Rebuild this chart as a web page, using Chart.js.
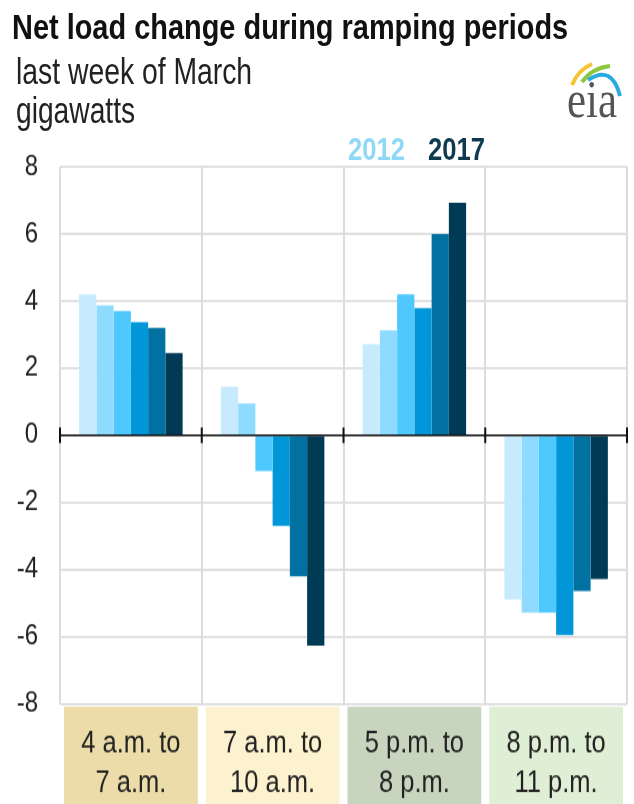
<!DOCTYPE html>
<html>
<head>
<meta charset="utf-8">
<script src="https://cdn.jsdelivr.net/npm/chart.js@4.4.0/dist/chart.umd.min.js"></script>
<style>
  body { margin: 0; background: #fff; }
  #wrap { position: relative; width: 634px; height: 804px; overflow: hidden; }
  /* the original picture is stretched vertically, so the canvas is too */
  #chart { position: absolute; left: 0; top: 0; transform: scaleY(1.2); transform-origin: 0 0; }
  .txt { position: absolute; font-family: "Liberation Sans", Arial, sans-serif; white-space: nowrap; line-height: 1; transform-origin: 0 0; }
  #title { left: 12px; top: 10px; font-size: 34.5px; font-weight: bold; color: #111; }
  #sub1 { left: 16px; top: 54px; font-size: 36px; color: #222; }
  #sub2 { left: 16px; top: 93px; font-size: 36px; color: #222; }
  .leg { top: 134px; font-size: 31px; font-weight: bold; }
  #l2012 { left: 348px; color: #8fd8f8; }
  #l2017 { left: 428px; color: #0e3a50; }
  #logo { position: absolute; left: 550px; top: 50px; }
</style>
</head>
<body>
<div id="wrap">
  <canvas id="chart" width="634" height="670"></canvas>
  <div class="txt" id="title">Net load change during ramping periods</div>
  <div class="txt" id="sub1">last week of March</div>
  <div class="txt" id="sub2">gigawatts</div>
  <div class="txt leg" id="l2012">2012</div>
  <div class="txt leg" id="l2017">2017</div>
  <svg id="logo" width="80" height="75" viewBox="0 0 80 75">
    <path d="M22 35 Q28 20 42 14" stroke="#f5c431" stroke-width="4" fill="none"/>
    <path d="M32 32 Q42 18 60 16" stroke="#8dc63f" stroke-width="4" fill="none"/>
    <path d="M38 30 Q62 14 70 46" stroke="#29abe2" stroke-width="4" fill="none"/>
    <text x="17" y="67" font-family="Liberation Serif, DejaVu Serif, serif" font-size="52" textLength="50" lengthAdjust="spacingAndGlyphs" fill="#555">eia</text>
  </svg>
</div>
<script>
'use strict';

let canvasElem = document.getElementById('chart');

// data
let periods = [['4 a.m. to', '7 a.m.'], ['7 a.m. to', '10 a.m.'], ['5 p.m. to', '8 p.m.'], ['8 p.m. to', '11 p.m.']];
let years = ['2012', '2013', '2014', '2015', '2016', '2017'];
let v2012 = [4.2, 1.45, 2.72, -4.89];
let v2013 = [3.87, 0.95, 3.13, -5.28];
let v2014 = [3.7, -1.06, 4.2, -5.28];
let v2015 = [3.37, -2.7, 3.79, -5.95];
let v2016 = [3.2, -4.2, 6.0, -4.64];
let v2017 = [2.45, -6.27, 6.93, -4.28];
let yTicks = [-8, -6, -4, -2, 0, 2, 4, 6, 8];

// styles
let barColors = ['#c7ebfc', '#8fdbff', '#4fc8fd', '#0096d7', '#0071a1', '#003a54'];
let boxColors = ['#ebdcaa', '#fdf2cf', '#c7d5be', '#dfefd6'];
let fontFam = '"Liberation Sans", Arial, sans-serif';

// squeeze the html texts to the widths in the picture
function fitText(id, width) {
  let el = document.getElementById(id);
  el.style.transform = 'scaleX(' + (width / el.offsetWidth) + ')';
}
fitText('title', 556);
fitText('sub1', 236);
fitText('sub2', 119);
fitText('l2012', 57);
fitText('l2017', 57);

let allValues = [v2012, v2013, v2014, v2015, v2016, v2017];
let datasets = [];
for (let i = 0; i < years.length; i++) {
  datasets.push({
    label: years[i],
    data: allValues[i],
    backgroundColor: barColors[i],
    borderWidth: 0,
    barPercentage: 1.0,
    categoryPercentage: 0.73
  });
}

let boxPlugin = {
  id: 'boxes',
  // colored boxes under the categories
  beforeDraw(chart) {
    let ctx = chart.ctx;
    let xs = chart.scales.x;
    let area = chart.chartArea;
    let w = (xs.right - xs.left) / periods.length;
    ctx.save();
    for (let i = 0; i < periods.length; i++) {
      let c = xs.getPixelForValue(i);
      ctx.fillStyle = boxColors[i];
      ctx.fillRect(c - w / 2 + 4, area.bottom + 2.5, w - 8, chart.height - area.bottom - 2.5);
    }
    ctx.restore();
  },
  // zero line with tick marks at the group borders
  afterDatasetsDraw(chart) {
    let ctx = chart.ctx;
    let xs = chart.scales.x;
    let y0 = chart.scales.y.getPixelForValue(0);
    let w = (xs.right - xs.left) / periods.length;
    ctx.save();
    ctx.strokeStyle = '#111';
    ctx.lineWidth = 1.7;
    ctx.beginPath();
    ctx.moveTo(xs.left, y0);
    ctx.lineTo(xs.right, y0);
    ctx.stroke();
    ctx.lineWidth = 2;
    ctx.beginPath();
    for (let i = 0; i <= periods.length; i++) {
      let x = xs.left + i * w;
      ctx.moveTo(x, y0 - 6.5);
      ctx.lineTo(x, y0 + 6.5);
    }
    ctx.stroke();
    ctx.restore();
  }
};

let config = {
  type: 'bar',
  data: { labels: periods, datasets: datasets },
  options: {
    responsive: false,
    animation: false,
    layout: { padding: { top: 139, right: 7, left: 0, bottom: 0 } },
    plugins: { legend: { display: false }, tooltip: { enabled: false } },
    scales: {
      x: {
        grid: { offset: true, color: '#dcdcdc', lineWidth: 2, drawTicks: false },
        border: { display: false },
        ticks: { color: '#222', padding: 17, font: { family: fontFam, size: 25.5, lineHeight: 1.29 }, maxRotation: 0 },
        afterFit(scale) { scale.height = 83.5; }
      },
      y: {
        min: -8,
        max: 8,
        afterBuildTicks(scale) { scale.ticks = yTicks.map(v => ({ value: v })); },
        grid: { color: '#dcdcdc', lineWidth: 1.7, drawTicks: false },
        border: { display: false },
        ticks: { color: '#222', padding: 22, font: { family: fontFam, size: 24 } },
        afterFit(scale) { scale.width = 60; }
      }
    }
  },
  plugins: [boxPlugin]
};

new Chart(canvasElem, config);
</script>
</body>
</html>
